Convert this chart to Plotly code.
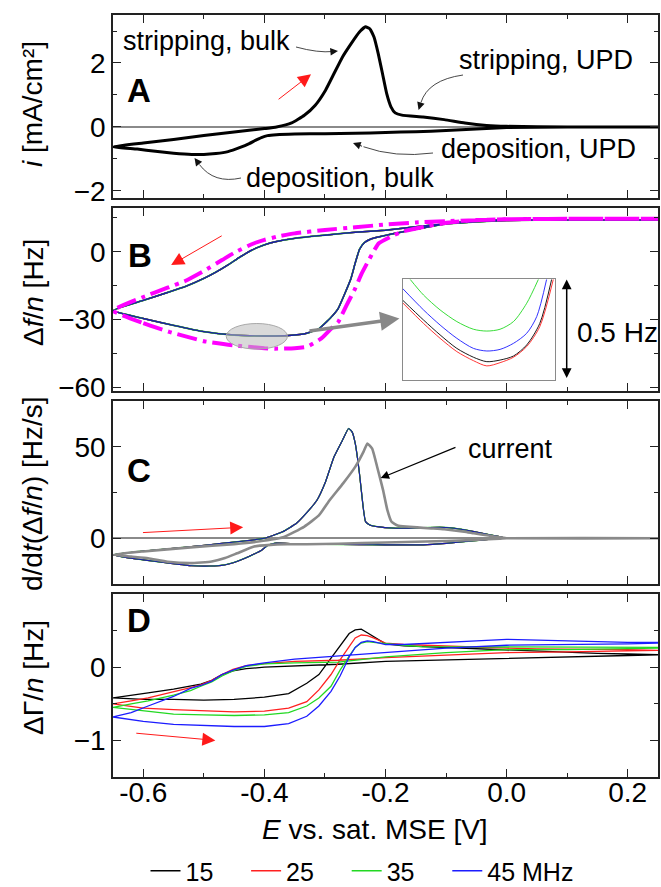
import plotly.graph_objects as go

# ---------------- DATA ----------------
# Panel A : current density (mA/cm2) vs E (V)
A_fwd_E = [-0.65, -0.60, -0.55, -0.50, -0.45, -0.40, -0.38, -0.355, -0.334, -0.316, -0.299, -0.285,
           -0.271, -0.257, -0.243, -0.233, -0.226, -0.219, -0.212, -0.205, -0.198, -0.191, -0.184,
           -0.173, -0.138, -0.103, -0.069, -0.033, 0.0, 0.1, 0.25]
A_fwd_i = [-0.62, -0.50, -0.39, -0.27, -0.16, -0.05, 0.0, 0.125, 0.365, 0.68, 1.15, 1.67,
           2.19, 2.60, 2.97, 3.13, 3.07, 2.81, 2.29, 1.67, 1.04, 0.63, 0.44,
           0.37, 0.31, 0.23, 0.125, 0.05, 0.02, 0.0, 0.0]
A_rev_E = [0.25, 0.2, 0.1, 0.0, -0.05, -0.1, -0.15, -0.2, -0.25, -0.3, -0.35, -0.38, -0.395,
           -0.405, -0.415, -0.425, -0.44, -0.46, -0.48, -0.50, -0.52, -0.55, -0.58, -0.61, -0.65]
A_rev_i = [0.0, 0.0, 0.0, -0.02, -0.06, -0.11, -0.15, -0.17, -0.20, -0.21, -0.22, -0.24, -0.27,
           -0.33, -0.42, -0.52, -0.64, -0.77, -0.83, -0.86, -0.86, -0.82, -0.76, -0.69, -0.62]

# Panel B : frequency shift (Hz); the four overtones overlap at this scale
B_fwd_E = [-0.65, -0.60, -0.55, -0.50, -0.45, -0.40, -0.36, -0.33, -0.31, -0.29, -0.278, -0.268,
           -0.257, -0.25, -0.243, -0.235, -0.225, -0.21, -0.19, -0.16, -0.13, -0.10, -0.07,
           -0.04, 0.0, 0.1, 0.25]
B_fwd_df = [-26.0, -29.5, -32.5, -35.3, -36.8, -37.2, -37.0, -36.0, -34.0, -29.0, -25.0, -19.0,
            -11.8, -5.0, 1.0, 4.0, 5.5, 6.6, 7.8, 9.4, 10.9, 12.3, 13.3, 13.8, 14.0, 14.0, 14.0]
B_rev_E = [0.25, 0.1, 0.0, -0.05, -0.1, -0.15, -0.2, -0.25, -0.3, -0.35, -0.38, -0.40, -0.42,
           -0.44, -0.46, -0.48, -0.50, -0.53, -0.56, -0.60, -0.65]
B_rev_df = [14.0, 14.0, 13.8, 13.2, 12.3, 11.0, 9.5, 8.6, 7.3, 5.9, 4.5, 3.0, 0.8,
            -2.3, -5.8, -9.0, -11.8, -15.3, -18.0, -21.5, -26.0]
# Sauerbrey mass from current (magenta, dash-dot)
M_fwd_E = [-0.65, -0.60, -0.557, -0.50, -0.452, -0.40, -0.382, -0.35, -0.33, -0.306, -0.29, -0.278,
           -0.265, -0.25, -0.24, -0.229, -0.22, -0.211, -0.19, -0.173, -0.14, -0.103, -0.05, 0.0,
           0.1, 0.25]
M_fwd_df = [-26.0, -31.5, -35.4, -39.5, -41.3, -42.6, -42.8, -42.6, -42.0, -38.3, -34.0, -31.0,
            -24.0, -16.2, -10.0, -4.4, 0.0, 3.7, 6.8, 8.8, 10.8, 12.6, 14.0, 14.3, 14.5, 14.5]
M_rev_E = [0.25, 0.1, 0.0, -0.1, -0.15, -0.2, -0.25, -0.3, -0.35, -0.38, -0.40, -0.42, -0.45,
           -0.47, -0.50, -0.53, -0.56, -0.60, -0.65]
M_rev_df = [14.5, 14.5, 14.3, 13.5, 12.9, 12.0, 10.8, 9.6, 8.1, 6.6, 5.2, 3.4, -0.5,
            -3.7, -8.5, -12.8, -15.9, -20.0, -26.0]

# Inset (zoom of the minimum, relative position / relative Hz)
ins_pos_15 = [0.0, 0.138, 0.247, 0.357, 0.466, 0.554, 0.641, 0.729, 0.816, 0.902, 0.98]
ins_val_15 = [0.397, 0.298, 0.224, 0.157, 0.113, 0.091, 0.099, 0.119, 0.174, 0.281, 0.5]
ins_pos_25 = [0.0, 0.138, 0.247, 0.357, 0.466, 0.554, 0.641, 0.729, 0.816, 0.902, 0.991]
ins_val_25 = [0.384, 0.281, 0.207, 0.141, 0.096, 0.070, 0.086, 0.113, 0.166, 0.265, 0.5]
ins_pos_35 = [0.05, 0.138, 0.247, 0.357, 0.466, 0.554, 0.641, 0.729, 0.816, 0.893]
ins_val_35 = [0.5, 0.422, 0.348, 0.29, 0.252, 0.243, 0.252, 0.29, 0.381, 0.5]
ins_pos_45 = [0.0, 0.138, 0.247, 0.357, 0.466, 0.554, 0.641, 0.729, 0.816, 0.882, 0.947]
ins_val_45 = [0.455, 0.348, 0.273, 0.207, 0.157, 0.144, 0.152, 0.182, 0.232, 0.315, 0.5]

# Panel C : d/dt(df/n) (Hz/s) and scaled current
C_fwd_E = [-0.65, -0.60, -0.55, -0.52, -0.47, -0.42, -0.40, -0.37, -0.347, -0.33, -0.313, -0.299,
           -0.285, -0.271, -0.261, -0.255, -0.25, -0.243, -0.237, -0.233, -0.226, -0.21, -0.19,
           -0.173, -0.15, -0.11, -0.09, -0.068, -0.04, -0.012, 0.0, 0.1, 0.25]
C_fwd_v = [-9.0, -7.0, -5.5, -4.6, -2.8, -1.0, 0.0, 3.5, 8.2, 14.0, 20.9, 30.9,
           44.5, 53.6, 60.0, 58.0, 51.8, 35.4, 17.3, 9.1, 7.3, 6.2, 5.6,
           5.5, 5.6, 6.0, 5.6, 4.5, 2.7, 0.9, 0.0, 0.0, 0.0]
C_rev_E = [0.25, 0.1, 0.0, -0.012, -0.04, -0.068, -0.1, -0.138, -0.2, -0.243, -0.3, -0.35, -0.383,
           -0.395, -0.404, -0.418, -0.432, -0.45, -0.466, -0.49, -0.52, -0.557, -0.6, -0.627, -0.65]
C_rev_v = [0.0, 0.0, 0.0, 0.0, -1.0, -1.8, -2.8, -3.6, -3.6, -3.5, -3.3, -3.0, -2.7,
           -4.0, -6.4, -8.8, -10.9, -13.2, -14.6, -15.2, -15.0, -13.6, -11.8, -10.6, -9.0]
Cur_fwd_E = [-0.65, -0.6, -0.522, -0.45, -0.41, -0.369, -0.334, -0.31, -0.292, -0.27, -0.25,
             -0.236, -0.23, -0.222, -0.213, -0.204, -0.197, -0.19, -0.18, -0.166, -0.13, -0.103,
             -0.07, -0.054, -0.03, -0.012, 0.0, 0.25]
Cur_fwd_v = [-9.0, -7.2, -5.0, -3.2, -1.8, 0.5, 6.4, 12.5, 20.9, 30.0, 39.0,
             47.5, 51.8, 49.0, 38.0, 26.3, 15.5, 9.0, 7.0, 6.4, 5.5, 4.9,
             3.6, 2.7, 1.5, 0.5, 0.0, 0.0]
Cur_rev_E = [0.25, 0.0, -0.012, -0.1, -0.2, -0.278, -0.33, -0.362, -0.39, -0.417, -0.445,
             -0.465, -0.487, -0.522, -0.56, -0.592, -0.62, -0.65]
Cur_rev_v = [0.0, 0.0, -0.3, -1.5, -2.3, -3.0, -3.3, -3.3, -3.6, -4.5, -8.2,
             -10.8, -12.7, -13.6, -12.8, -10.9, -10.0, -9.0]

# Panel D : bandwidth shift (Hz)
D_fwd_E = [-0.65, -0.6, -0.55, -0.5, -0.45, -0.4, -0.36, -0.33, -0.31, -0.29, -0.275, -0.26,
           -0.25, -0.24, -0.23, -0.22, -0.2, -0.17, -0.14, -0.1, -0.05, 0.0, 0.05, 0.1,
           0.15, 0.2, 0.25]
D_rev_E = [0.25, 0.2, 0.1, 0.0, -0.1, -0.2, -0.278, -0.35, -0.4, -0.43, -0.452, -0.47, -0.487,
           -0.505, -0.522, -0.55, -0.592, -0.62, -0.65]
D_fwd_15 = [-0.42, -0.44, -0.44, -0.45, -0.44, -0.41, -0.36, -0.22, -0.10, 0.13, 0.30, 0.46,
            0.51, 0.52, 0.47, 0.42, 0.32, 0.29, 0.28, 0.27, 0.25, 0.24, 0.22, 0.20,
            0.19, 0.18, 0.17]
D_rev_15 = [0.17, 0.16, 0.14, 0.13, 0.11, 0.08, 0.04, 0.02, 0.0, -0.02, -0.05, -0.10, -0.18,
            -0.23, -0.26, -0.30, -0.35, -0.38, -0.42]
D_fwd_25 = [-0.50, -0.56, -0.58, -0.60, -0.61, -0.60, -0.56, -0.47, -0.31, -0.10, 0.10, 0.28,
            0.40, 0.44, 0.43, 0.40, 0.33, 0.31, 0.30, 0.29, 0.27, 0.26, 0.25, 0.25,
            0.24, 0.24, 0.23]
D_rev_25 = [0.23, 0.22, 0.21, 0.20, 0.17, 0.13, 0.095, 0.08, 0.05, 0.02, -0.03, -0.10, -0.18,
            -0.24, -0.28, -0.34, -0.42, -0.46, -0.50]
D_fwd_35 = [-0.55, -0.60, -0.64, -0.65, -0.66, -0.65, -0.62, -0.53, -0.42, -0.26, -0.04, 0.15,
            0.27, 0.33, 0.35, 0.34, 0.32, 0.30, 0.28, 0.28, 0.28, 0.28, 0.28, 0.28,
            0.27, 0.27, 0.27]
D_rev_35 = [0.26, 0.25, 0.24, 0.24, 0.20, 0.14, 0.07, 0.06, 0.045, 0.01, -0.05, -0.12, -0.20,
            -0.26, -0.32, -0.38, -0.46, -0.50, -0.55]
D_fwd_45 = [-0.68, -0.74, -0.78, -0.80, -0.81, -0.81, -0.77, -0.67, -0.53, -0.33, -0.12, 0.14,
            0.27, 0.34, 0.36, 0.35, 0.31, 0.31, 0.32, 0.34, 0.36, 0.38, 0.37, 0.36,
            0.35, 0.34, 0.34]
D_rev_45 = [0.33, 0.32, 0.31, 0.30, 0.26, 0.20, 0.16, 0.11, 0.06, 0.02, -0.04, -0.10, -0.19,
            -0.25, -0.29, -0.40, -0.53, -0.62, -0.68]

overtones = ["15", "25", "35", "45 MHz"]
x_ticks = [-0.6, -0.4, -0.2, 0.0, 0.2]
x_tick_text = ["-0.6", "-0.4", "-0.2", "0.0", "0.2"]

# ---------------- STYLE / LAYOUT HELPERS ----------------
W, H = 661, 887
ML, MR, MT, MB = 113, 3, 15, 110
PW, PH = W - ML - MR, H - MT - MB


def px_x(px):
    return (px - ML) / PW


def px_y(py):
    return 1 - (py - MT) / PH


XR = [-0.65, 0.25]
A_YR = [-2.22, 3.5]


def a_x(px):  # pixel -> data E (panel A)
    return XR[0] + (px - ML) / PW * (XR[1] - XR[0])


def a_y(py):  # pixel -> data i (panel A: spans pixel rows 15..198)
    return A_YR[1] - (py - 15) / 183 * (A_YR[1] - A_YR[0])


FONT = "Arial, Liberation Sans, sans-serif"
COLORS = ["#000000", "#ff2020", "#22d822", "#1c1cff"]
NBSP = "\u00a0"

fig = go.Figure()

# Panel A
fig.add_trace(go.Scatter(x=A_fwd_E + A_rev_E, y=A_fwd_i + A_rev_i, mode="lines",
                         line=dict(color="black", width=3, shape="spline", smoothing=0.4),
                         xaxis="x", yaxis="y", showlegend=False))

# Panel B
B_E = B_fwd_E + B_rev_E
B_df = B_fwd_df + B_rev_df
for k, c in enumerate(COLORS):
    fig.add_trace(go.Scatter(x=B_E, y=B_df, mode="lines",
                             line=dict(color=c if k < 3 else "#1c1caa", width=1.7 if k == 2 else 1.4,
                                       shape="spline", smoothing=0.4),
                             xaxis="x2", yaxis="y2", showlegend=False))
fig.add_trace(go.Scatter(x=M_fwd_E + M_rev_E, y=M_fwd_df + M_rev_df, mode="lines",
                         line=dict(color="#ff00ff", width=4, dash="20px,6px,4px,6px",
                                   shape="spline", smoothing=0.4),
                         xaxis="x2", yaxis="y2", showlegend=False))

# Inset
for pos, val, c in [(ins_pos_15, ins_val_15, COLORS[0]), (ins_pos_25, ins_val_25, COLORS[1]),
                    (ins_pos_35, ins_val_35, COLORS[2]), (ins_pos_45, ins_val_45, COLORS[3])]:
    fig.add_trace(go.Scatter(x=pos, y=val, mode="lines",
                             line=dict(color=c, width=0.9, shape="spline", smoothing=0.8),
                             xaxis="x5", yaxis="y5", showlegend=False))

# Panel C
C_E = C_fwd_E + C_rev_E
C_v = C_fwd_v + C_rev_v
for k, c in enumerate(COLORS):
    fig.add_trace(go.Scatter(x=C_E, y=C_v, mode="lines",
                             line=dict(color=c if k < 3 else "#1c1caa", width=1.3 if k == 2 else 1.1,
                                       shape="spline", smoothing=0.4),
                             xaxis="x3", yaxis="y3", showlegend=False))
fig.add_trace(go.Scatter(x=Cur_fwd_E + Cur_rev_E, y=Cur_fwd_v + Cur_rev_v, mode="lines",
                         line=dict(color="#8a8a8a", width=2.6, shape="spline", smoothing=0.4),
                         xaxis="x3", yaxis="y3", showlegend=False))

# Panel D
D_sets = [(D_fwd_15, D_rev_15), (D_fwd_25, D_rev_25), (D_fwd_35, D_rev_35), (D_fwd_45, D_rev_45)]
for (fw, rv), c, name in zip(D_sets, COLORS, overtones):
    fig.add_trace(go.Scatter(x=D_fwd_E + D_rev_E, y=fw + rv, mode="lines",
                             name=name + (NBSP * 4 if name != overtones[-1] else ""),
                             line=dict(color=c, width=1.3),
                             xaxis="x4", yaxis="y4", showlegend=True))

# ---------------- AXES ----------------
doms = {1: [px_y(198), px_y(15)], 2: [px_y(391), px_y(208)],
        3: [px_y(584), px_y(401)], 4: [px_y(777), px_y(594)]}
ymaj = {1: [-2, 0, 2], 2: [-60, -30, 0], 3: [0, 50], 4: [-1, 0]}
ymin = {1: [-1, 1, 3], 2: [-45, -15, 15], 3: [-25, 25, 75], 4: [-1.5, -0.5, 0.5]}
yrng = {1: A_YR, 2: [-61.5, 19.3], 3: [-25, 75], 4: [-1.5, 1.0]}

axis_common = dict(showline=True, linecolor="#222", linewidth=1.5, mirror="allticks",
                   ticks="inside", ticklen=8, tickwidth=1, tickcolor="#222",
                   showgrid=False, zeroline=False,
                   tickfont=dict(family=FONT, size=28, color="black"))
layout = dict(width=W, height=H, margin=dict(l=ML, r=MR, t=MT, b=MB, autoexpand=False),
              paper_bgcolor="white", plot_bgcolor="white", font=dict(family=FONT, color="black"))
for n in range(1, 5):
    sx = "" if n == 1 else str(n)
    layout["xaxis" + sx] = dict(axis_common, domain=[0, 1], anchor="y" + sx, range=XR,
                                tickmode="array", tickvals=x_ticks, ticktext=x_tick_text,
                                showticklabels=(n == 4), ticklabelstandoff=-10,
                                minor=dict(tickvals=[-0.5, -0.3, -0.1, 0.1], ticks="inside",
                                           ticklen=4, tickcolor="#222"))
    layout["yaxis" + sx] = dict(axis_common, domain=doms[n], anchor="x" + sx, range=yrng[n],
                                tickmode="array", tickvals=ymaj[n],
                                minor=dict(tickvals=ymin[n], ticks="inside", ticklen=4,
                                           tickcolor="#222"),
                                zeroline=(n in (1, 3)), zerolinecolor="#8a8a8a",
                                zerolinewidth=2)
layout["xaxis5"] = dict(domain=[px_x(402.5), px_x(554.7)], anchor="y5", range=[0, 1],
                        showline=True, mirror=True, linecolor="#8a8a8a", linewidth=1,
                        showticklabels=False, ticks="", showgrid=False, zeroline=False)
layout["yaxis5"] = dict(domain=[px_y(380), px_y(279.3)], anchor="x5", range=[0, 0.5],
                        showline=True, mirror=True, linecolor="#8a8a8a", linewidth=1,
                        showticklabels=False, ticks="", showgrid=False, zeroline=False)
layout["legend"] = dict(orientation="h", x=px_x(362), xanchor="center", y=px_y(871),
                        yanchor="middle", font=dict(family=FONT, size=25),
                        bgcolor="rgba(0,0,0,0)")
fig.update_layout(**layout)

# ---------------- ANNOTATIONS ----------------
ann = []
TF = dict(family=FONT, size=27, color="black")
# axis titles
for txt, py in [("<i>i</i> [mA/cm²]", 104), ("Δ<i>f</i>/<i>n</i> [Hz]", 293),
                ("d/d<i>t</i>(Δ<i>f</i>/<i>n</i>) [Hz/s]", 494), ("ΔΓ/<i>n</i> [Hz]", 678)]:
    ann.append(dict(text=txt, xref="paper", yref="paper", x=px_x(33), y=px_y(py),
                    showarrow=False, textangle=-90, font=dict(family=FONT, size=28),
                    xanchor="center", yanchor="middle"))
ann.append(dict(text="<i>E</i> vs. sat. MSE [V]", xref="paper", yref="paper", x=px_x(375),
                y=px_y(829), showarrow=False, font=dict(family=FONT, size=28),
                xanchor="center", yanchor="middle"))
# panel letters
for txt, px, py in [("A", 139, 90), ("B", 140, 255), ("C", 139, 470), ("D", 139, 620)]:
    ann.append(dict(text="<b>" + txt + "</b>", xref="paper", yref="paper", x=px_x(px), y=px_y(py),
                    showarrow=False, font=dict(family=FONT, size=33), xanchor="center",
                    yanchor="middle"))
# panel A labels
for txt, x, y in [("stripping, bulk", -0.496, 2.68), ("stripping, UPD", 0.065, 2.08),
                  ("deposition, UPD", 0.052, -0.70), ("deposition, bulk", -0.275, -1.6)]:
    ann.append(dict(text=txt, xref="x", yref="y", x=x, y=y, showarrow=False, font=TF,
                    xanchor="center", yanchor="middle"))
# curved thin pointer arrows (panel A): tail, control, head in pixels
curves = [((296, 47), (318, 53), (338, 51)),
          ((463, 75), (428, 80), (418.6, 110)),
          ((433, 153), (395, 158), (353, 143)),
          ((241, 178), (214, 184), (194.5, 158))]
for (t, c, h) in curves:
    bx = h[0] - 0.25 * (h[0] - c[0])
    by = h[1] - 0.25 * (h[1] - c[1])
    path = "M {},{} Q {},{} {},{}".format(a_x(t[0]), a_y(t[1]), a_x(c[0]), a_y(c[1]),
                                          a_x(bx), a_y(by))
    fig.add_shape(type="path", path=path, xref="x", yref="y",
                  line=dict(color="#333", width=0.9))
    ann.append(dict(text="", xref="x", yref="y", axref="x", ayref="y", x=a_x(h[0]), y=a_y(h[1]),
                    ax=a_x(bx), ay=a_y(by), showarrow=True, arrowhead=2, arrowsize=1.7,
                    arrowwidth=0.9, arrowcolor="#111"))
# red direction arrows
for ax_, (tx, ty), (hx, hy) in [("", (-0.379, 0.83), (-0.323, 1.65)),
                                ("2", (-0.468, 7.4), (-0.554, -5.9)),
                                ("3", (-0.603, 3.05), (-0.435, 6.0)),
                                ("4", (-0.614, -0.90), (-0.481, -1.0))]:
    ann.append(dict(text="", xref="x" + ax_, yref="y" + ax_, axref="x" + ax_, ayref="y" + ax_,
                    x=hx, y=hy, ax=tx, ay=ty, showarrow=True, arrowhead=2, arrowsize=2.6,
                    arrowwidth=1, arrowcolor="#ff1a1a"))
# panel B: grey arrow to inset, double arrow and label
ann.append(dict(text="", xref="x2", yref="y2", axref="x2", ayref="y2", x=-0.177, y=-29.5,
                ax=-0.328, ay=-35.1, showarrow=True, arrowhead=2, arrowsize=1.1,
                arrowwidth=3.5, arrowcolor="#888888"))
ann.append(dict(text="", xref="paper", yref="paper", x=px_x(566.7), y=px_y(279.5), ax=0,
                ay=100, showarrow=True, arrowhead=2, startarrowhead=2, arrowside="end+start",
                arrowsize=1.3, startarrowsize=1.3, arrowwidth=1.5, arrowcolor="black"))
ann.append(dict(text="0.5 Hz", xref="paper", yref="paper", x=px_x(617), y=px_y(332),
                showarrow=False, font=dict(family=FONT, size=28), xanchor="center",
                yanchor="middle"))
# panel C "current"
ann.append(dict(text="current", xref="x3", yref="y3", x=0.006, y=48.7, showarrow=False,
                font=TF, xanchor="center", yanchor="middle"))
ann.append(dict(text="", xref="x3", yref="y3", axref="x3", ayref="y3", x=-0.208, y=32.9,
                ax=-0.082, ay=50, showarrow=True, arrowhead=2, arrowsize=1.4, arrowwidth=1.2,
                arrowcolor="black"))
fig.update_layout(annotations=ann)

# grey ellipse marking the minimum
fig.add_shape(type="circle", xref="x2", yref="y2", x0=-0.463, x1=-0.362, y0=-43.0, y1=-31.7,
              fillcolor="rgba(185,185,185,0.55)", line=dict(color="#a8a8a8", width=1),
              layer="above")

fig.write_html("out.html")
